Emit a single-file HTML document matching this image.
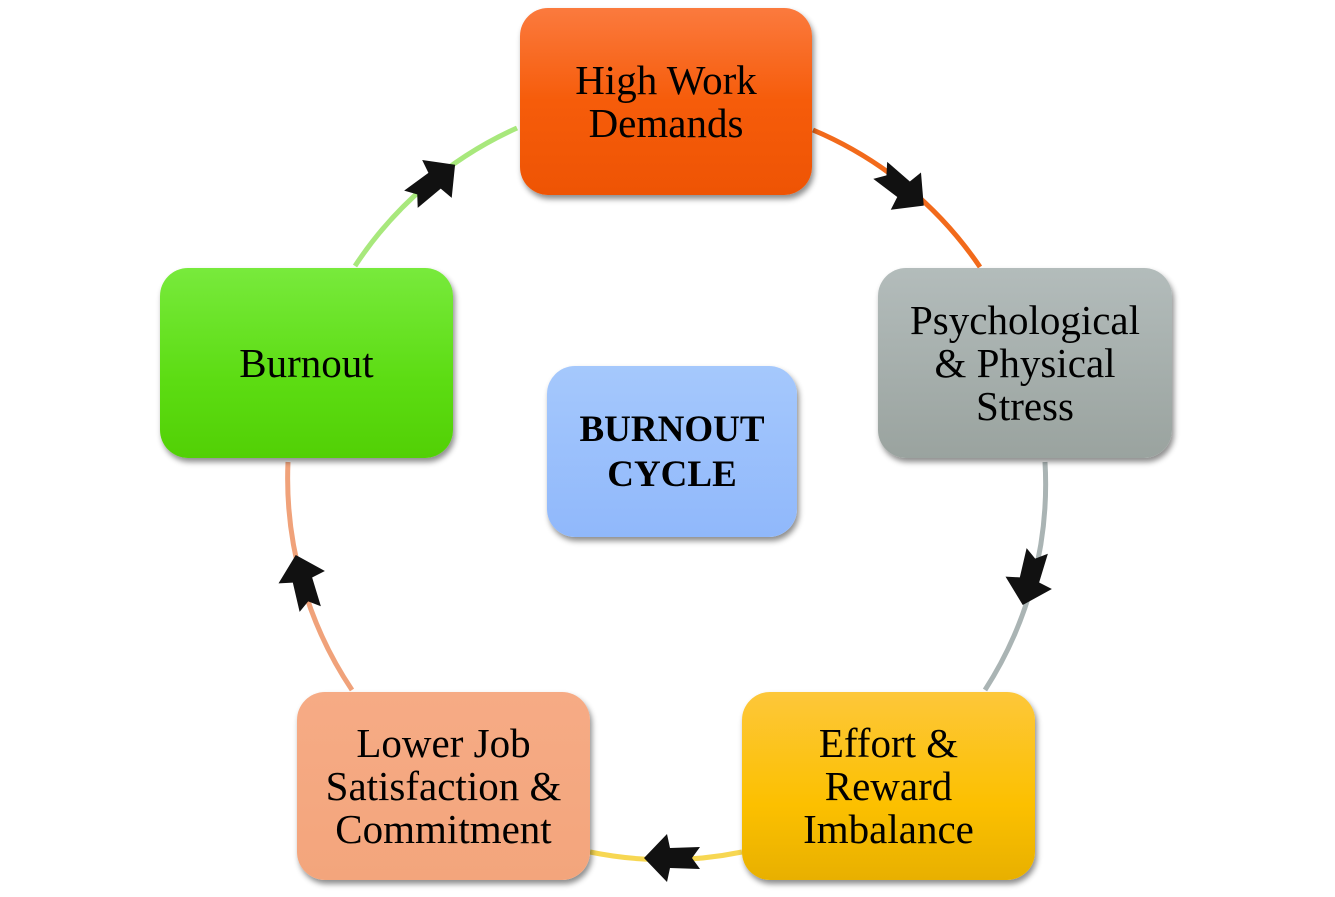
<!DOCTYPE html>
<html><head><style>
body{margin:0;width:1335px;height:897px;background:#fff;overflow:hidden;position:relative;font-family:"Liberation Serif",serif}
.b{position:absolute;border-radius:28px;display:flex;align-items:center;justify-content:center;text-align:center;font-size:41px;line-height:43px;color:#000;box-shadow:2px 4px 6px rgba(0,0,0,.45)}
svg{position:absolute;left:0;top:0}
</style></head><body>
<svg width="1335" height="897">
<g fill="none" stroke-width="5">
<path d="M813 130 A380 380 0 0 1 980 267" stroke="#f26a1b"/>
<path d="M1045 462 A380 380 0 0 1 985 690" stroke="#aab4b4"/>
<path d="M742 852 A380 380 0 0 1 590 852" stroke="#f7d752"/>
<path d="M352 690 A380 380 0 0 1 288 462" stroke="#f0a27a"/>
<path d="M355 266 A380 380 0 0 1 517 128" stroke="#a8e87c"/>
</g>
<defs><polygon id="a" points="28,0 5,-24 2,-10 -28,-11 -20,0 -28,11 2,10 5,24" fill="#111"/></defs>
<use href="#a" transform="translate(902,188) rotate(39)"/>
<use href="#a" transform="translate(1030,578) rotate(105)"/>
<use href="#a" transform="translate(672,858) rotate(180)"/>
<use href="#a" transform="translate(303,582) rotate(255)"/>
<use href="#a" transform="translate(433,182) rotate(-38)"/>
</svg>
<div class="b" style="left:520px;top:8px;width:292px;height:187px;background:linear-gradient(#fb7a3e,#f65c0a 50%,#ee5404)">High Work<br>Demands</div>
<div class="b" style="left:878px;top:268px;width:294px;height:190px;background:linear-gradient(#b3bcbb,#9aa39f)">Psychological<br>&amp; Physical<br>Stress</div>
<div class="b" style="left:742px;top:692px;width:293px;height:188px;background:linear-gradient(#fdc73a,#fcc000 60%,#e8b000)">Effort &amp;<br>Reward<br>Imbalance</div>
<div class="b" style="left:297px;top:692px;width:293px;height:188px;background:linear-gradient(#f6ab85,#f3a57c)">Lower Job<br>Satisfaction &amp;<br>Commitment</div>
<div class="b" style="left:160px;top:268px;width:293px;height:190px;background:linear-gradient(#78ea3c,#5cdc12 60%,#52d005)">Burnout</div>
<div class="b" style="left:547px;top:366px;width:250px;height:171px;font-weight:bold;font-size:37px;line-height:45px;background:linear-gradient(#a5c8fc,#90b8fb)">BURNOUT<br>CYCLE</div>
</body></html>
